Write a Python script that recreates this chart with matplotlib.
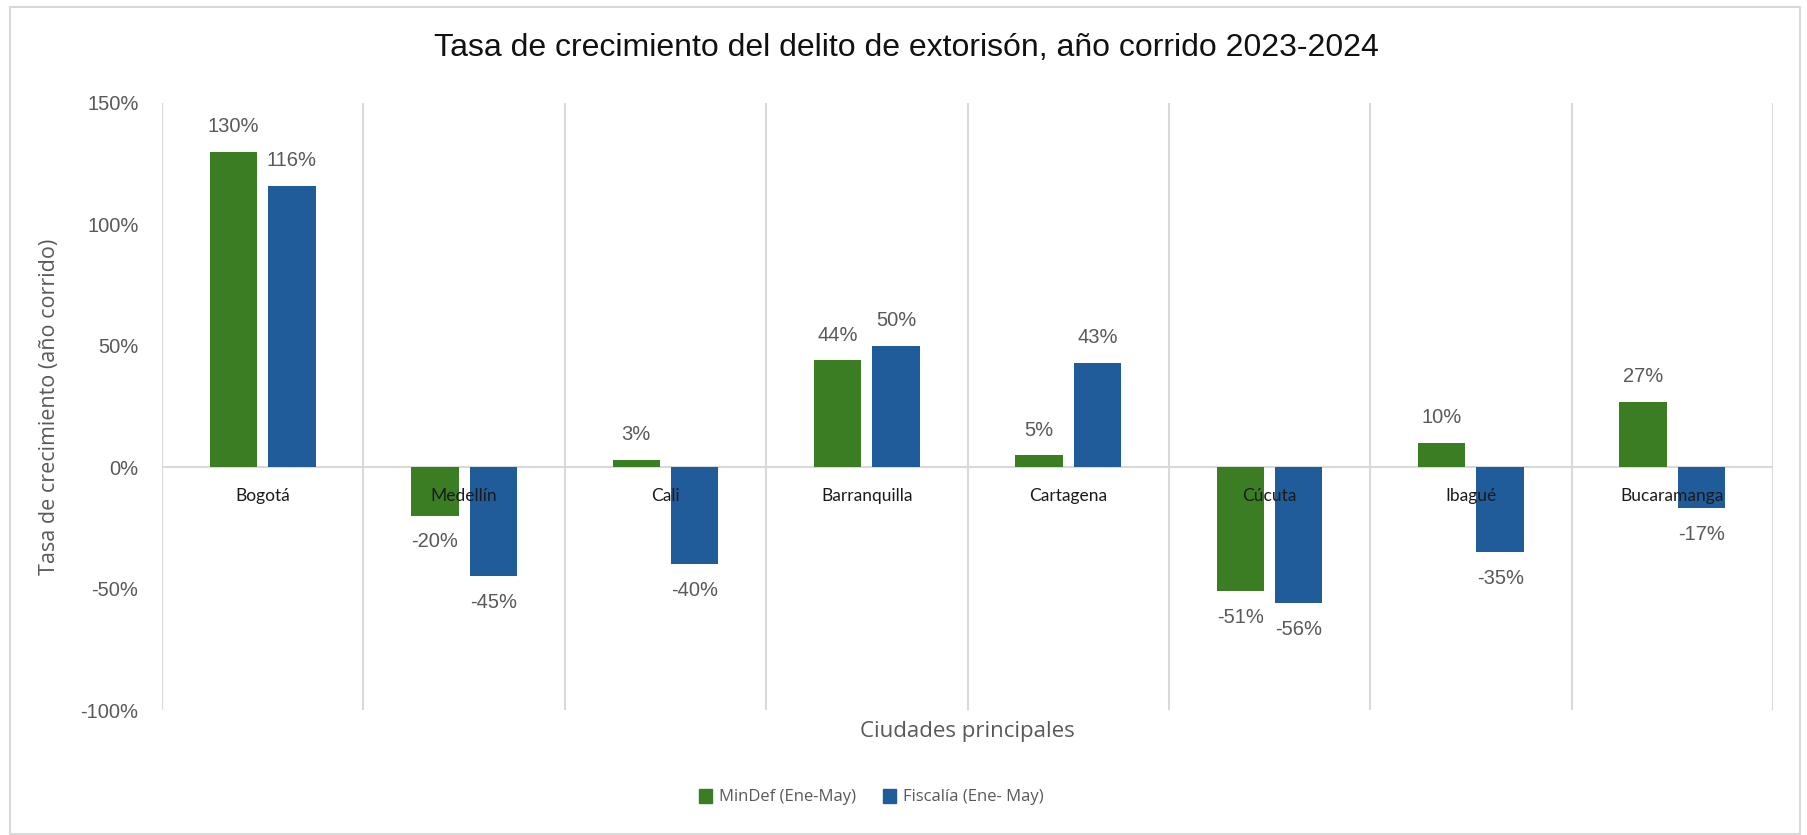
import matplotlib.pyplot as plt
from matplotlib.patches import Rectangle, Patch
import numpy as np

# Data
ciudades = ["Bogotá", "Medellín", "Cali", "Barranquilla", "Cartagena", "Cúcuta", "Ibagué", "Bucaramanga"]
mindef = [130, -20, 3, 44, 5, -51, 10, 27]
fiscalia = [116, -45, -40, 50, 43, -56, -35, -17]
series_names = ["MinDef (Ene-May)", "Fiscalía (Ene- May)"]
y_ticks = [-100, -50, 0, 50, 100, 150]

verde = "#3B7D23"
azul = "#1F5C99"
gris = "#595959"
grid = "#D9D9D9"

fig = plt.figure(figsize=(18.07, 8.35), dpi=100)
W, H = 1807, 835
ax = fig.add_axes([162 / W, 1 - 710 / H, (1773 - 162) / W, (710 - 103) / H])

x = np.arange(len(ciudades))
w = 0.235
off = 0.145
ax.bar(x - off, mindef, w, color=verde, zorder=3)
ax.bar(x + off, fiscalia, w, color=azul, zorder=3)

# data labels
for xs, vals in [(x - off, mindef), (x + off, fiscalia)]:
    for xi, v in zip(xs, vals):
        dy = 25 if v >= 0 else -26
        ax.annotate(f"{v}%", (xi, v), xytext=(0, dy), textcoords="offset pixels",
                    ha="center", va="center", fontsize=14.5, color=gris,
                    family="Liberation Sans", zorder=5)

# category labels just below zero line
for xi, c in zip(x, ciudades):
    ax.annotate(c, (xi, 0), xytext=(0, -29), textcoords="offset pixels",
                ha="center", va="center", fontsize=12.5, color="#1a1a1a",
                family="Lato", zorder=6)

ax.set_xlim(-0.5, len(ciudades) - 0.5)
ax.set_ylim(-100, 150)
for b in np.arange(-0.5, len(ciudades), 1):
    ax.axvline(b, color=grid, lw=1.5, zorder=1)
ax.axhline(0, color=grid, lw=1.5, zorder=2)

ax.set_xticks([])
ax.set_yticks(y_ticks)
ax.set_yticklabels([f"{t}%" for t in y_ticks], fontsize=14.5, color=gris, family="Liberation Sans")
ax.tick_params(axis="y", length=0, pad=17)
for s in ax.spines.values():
    s.set_visible(False)

ax.set_ylabel("Tasa de crecimiento (año corrido)", fontsize=15.5, color=gris, family="Open Sans")
ax.yaxis.set_label_coords((60 - 162) / 1611, 0.5)
ax.text(0.5, (710 - 731) / 607, "Ciudades principales", transform=ax.transAxes,
        ha="center", va="center", fontsize=16, color=gris, family="Open Sans")

fig.text(906 / W, 1 - 48 / H, "Tasa de crecimiento del delito de extorisón, año corrido 2023-2024",
         ha="center", va="center", fontsize=23, color="#111111",
         family=["Liberation Sans", "DejaVu Sans"])

handles = [Patch(color=verde), Patch(color=azul)]
fig.legend(handles, series_names, loc="center", bbox_to_anchor=(871 / W, 1 - 797 / H),
           ncol=2, frameon=False, handlelength=0.8, handleheight=0.9,
           columnspacing=1.6, handletextpad=0.4, labelcolor=gris,
           prop={"family": "Open Sans", "size": 12})

fig.patches.append(Rectangle((10 / W, 1 / H), 1790 / W, 827 / H, transform=fig.transFigure,
                             fill=False, edgecolor=grid, lw=1.5))

fig.savefig("out.png", dpi=100)
